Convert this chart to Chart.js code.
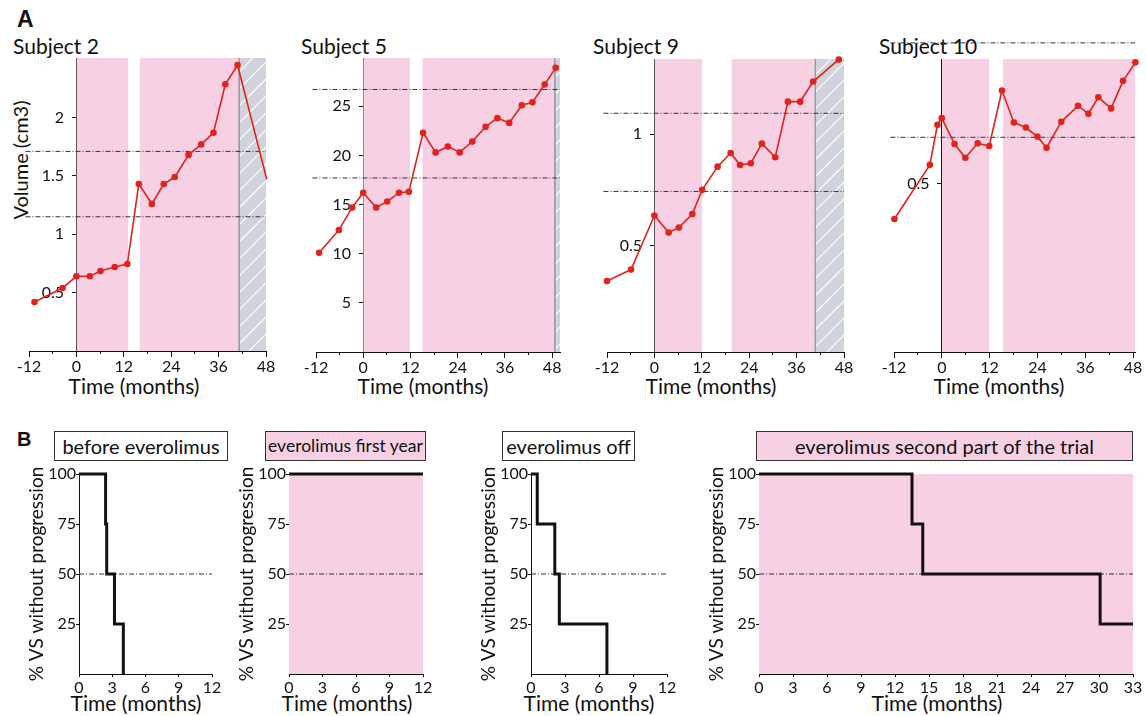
<!DOCTYPE html>
<html>
<head>
<meta charset="utf-8">
<script src="https://cdn.jsdelivr.net/npm/chart.js@4.4.1/dist/chart.umd.min.js"></script>
<style>
body { margin: 0; background: #fff; width: 1146px; height: 716px; position: relative; overflow: hidden; font-family: Lato, sans-serif; color: #111; }
canvas { position: absolute; }
.lbl { position: absolute; white-space: nowrap; line-height: 1; }
.letter { font-family: "Liberation Sans", Arial, sans-serif; font-weight: bold; }
.subj { font-size: 21px; }
.xt { font-size: 21px; transform: translateX(-50%); }
.tbox { position: absolute; box-sizing: border-box; height: 30px; border: 1px solid #333; text-align: center; font-size: 20px; line-height: 28px; white-space: nowrap; }
</style>
</head>
<body>

<div class="lbl letter" style="left:17px; top:8px; font-size:23px;">A</div>
<div class="lbl letter" style="left:17px; top:429px; font-size:20px;">B</div>

<div class="lbl subj" style="left:13px; top:35px;">Subject 2</div>
<div class="lbl subj" style="left:301px; top:35px;">Subject 5</div>
<div class="lbl subj" style="left:593px; top:35px;">Subject 9</div>
<div class="lbl subj" style="left:879px; top:35px;">Subject 10</div>
<div class="lbl" style="left:20px; top:160px; font-size:20px; transform: translate(-50%, -50%) rotate(-90deg);">Volume (cm3)</div>

<div class="lbl xt" style="left:134px; top:375px;">Time (months)</div>
<div class="lbl xt" style="left:423px; top:375px;">Time (months)</div>
<div class="lbl xt" style="left:711px; top:375px;">Time (months)</div>
<div class="lbl xt" style="left:999px; top:375px;">Time (months)</div>

<div class="tbox" style="left:54px; top:431px; width:174px; background:#fff;">before everolimus</div>
<div class="tbox" style="left:265px; top:431px; width:161px; background:rgb(248,208,227); font-size:17.5px;">everolimus first year</div>
<div class="tbox" style="left:502px; top:431px; width:133px; background:#fff;">everolimus off</div>
<div class="tbox" style="left:756px; top:431px; width:377px; background:rgb(248,208,227);">everolimus second part of the trial</div>

<div class="lbl xt" style="left:136px; top:692px;">Time (months)</div>
<div class="lbl xt" style="left:347px; top:692px;">Time (months)</div>
<div class="lbl xt" style="left:589px; top:692px;">Time (months)</div>
<div class="lbl xt" style="left:937px; top:692px;">Time (months)</div>

<canvas id="s2"></canvas>
<canvas id="s5"></canvas>
<canvas id="s9"></canvas>
<canvas id="s10"></canvas>
<canvas id="b1"></canvas>
<canvas id="b2"></canvas>
<canvas id="b3"></canvas>
<canvas id="b4"></canvas>

<script>
// ---- données panneau A (volume en cm3 / mois) ----
const monthTicks = [-12, 0, 12, 24, 36, 48];
const monthMinor = [-6, 6, 18, 30, 42];

const s2Months = [-10.6, -3.5, 0, 3.4, 6.1, 9.7, 12.9, 15.8, 19.1, 22.1, 24.9, 28.4, 31.6, 34.7, 37.7, 40.8, 48.2];
const s2Volume = [0.42, 0.54, 0.64, 0.64, 0.685, 0.72, 0.745, 1.43, 1.26, 1.43, 1.49, 1.68, 1.77, 1.87, 2.285, 2.45, 1.47];
const s2Limits = [1.15, 1.71];
const s2OnDrug = [[0, 13.1], [16.0, 41.2]];
const s2Off = [41.2, 48];
const s2YTicks = [0.5, 1, 1.5, 2];

const s5Months = [-11.2, -6.2, -2.8, 0, 3.3, 6.1, 9.1, 11.6, 15.2, 18.4, 21.5, 24.5, 27.7, 31.1, 34.1, 37.1, 40.3, 43.0, 46.1, 48.9];
const s5Volume = [10.1, 12.4, 14.7, 16.2, 14.7, 15.3, 16.2, 16.3, 22.3, 20.3, 20.9, 20.3, 21.4, 22.9, 23.8, 23.3, 25.1, 25.4, 27.2, 28.9];
const s5Limits = [17.7, 26.7];
const s5OnDrug = [[0, 11.9], [15.0, 48.7]];
const s5Off = [48.7, 50];
const s5YTicks = [5, 10, 15, 20, 25];

const s9Months = [-12, -5.9, 0, 3.6, 6.2, 9.6, 12.1, 16.0, 19.3, 21.7, 24.4, 27.2, 30.6, 33.8, 36.9, 40.2, 46.7];
const s9Volume = [0.343, 0.394, 0.636, 0.56, 0.582, 0.643, 0.751, 0.855, 0.916, 0.862, 0.870, 0.958, 0.897, 1.146, 1.146, 1.236, 1.335];
const s9Limits = [0.744, 1.094];
const s9OnDrug = [[0, 12.1], [19.5, 40.4]];
const s9Off = [40.7, 48];
const s9YTicks = [0.5, 1];

const s10Months = [-11.9, -3.0, -1.1, 0, 3.2, 5.9, 9.0, 11.9, 15.1, 18.1, 21.1, 24.0, 26.3, 30.0, 34.2, 36.8, 39.3, 42.5, 45.5, 48.6];
const s10Volume = [0.396, 0.557, 0.676, 0.696, 0.619, 0.578, 0.621, 0.613, 0.778, 0.683, 0.668, 0.641, 0.608, 0.685, 0.733, 0.709, 0.758, 0.725, 0.807, 0.862];
const s10Limits = [0.639, 0.92];
const s10OnDrug = [[0, 12.0], [15.3, 48.5]];
const s10YTicks = [0.5];

// ---- données panneau B (Kaplan-Meier) ----
const survTicks = [25, 50, 75, 100];
const kmTicks12 = [0, 3, 6, 9, 12];
const kmTicks33 = [0, 3, 6, 9, 12, 15, 18, 21, 24, 27, 30, 33];

const b1Time = [0, 2.4, 2.5, 3.2, 4.0];
const b1Surv = [100, 75, 50, 25, 0];
const b2Time = [0, 12];
const b2Surv = [100, 100];
const b3Time = [0, 0.55, 2.1, 2.5, 6.7];
const b3Surv = [100, 75, 50, 25, 0];
const b4Time = [0, 13.5, 14.45, 30.1, 33];
const b4Surv = [100, 75, 50, 25, 25];

const FONT = 'Lato';
const INK = '#111';
const PINK = 'rgb(248, 208, 227)';
const RED = 'rgb(226, 35, 27)';
const DASH = [5, 2, 1, 2];

function hatch() {
    const s = 17;
    const c = document.createElement('canvas');
    c.width = s; c.height = s;
    const g = c.getContext('2d');
    g.fillStyle = '#d0d3db';
    g.fillRect(0, 0, s, s);
    g.strokeStyle = '#fff';
    g.lineWidth = 1.2;
    for (const k of [-1, 0, 1]) {
        g.beginPath();
        g.moveTo(k * s, s);
        g.lineTo(k * s + s, 0);
        g.stroke();
    }
    return g.createPattern(c, 'repeat');
}

function place(canvas, left, top, w, h) {
    canvas.width = w; canvas.height = h;
    canvas.style.left = left + 'px';
    canvas.style.top = top + 'px';
    canvas.style.width = w + 'px';
    canvas.style.height = h + 'px';
}

function pts(xs, ys) {
    return xs.map((x, i) => ({ x: x, y: ys[i] }));
}

// area = bords de la zone de tracé en pixels de la page
function volumeChart(id, area, o) {
    const padL = 22, padR = 16, padT = 26, axisH = 46;
    const cv = document.getElementById(id);
    place(cv, area.l - padL, area.t - padT, area.r - area.l + padL + padR, area.b - area.t + padT + axisH);

    const datasets = [];
    o.onDrug.forEach(p => datasets.push({
        data: pts(p, [o.yMax, o.yMax]), fill: 'start', backgroundColor: PINK,
        borderWidth: 0, pointRadius: 0, order: 10
    }));
    if (o.off) {
        datasets.push({
            data: pts(o.off, [o.yMax, o.yMax]), fill: 'start', backgroundColor: hatch(),
            borderWidth: 0, pointRadius: 0, order: 9
        });
        datasets.push({
            data: pts([o.off[0], o.off[0]], [o.yMin, o.yMax]), borderColor: '#8e959b',
            borderWidth: 1.5, pointRadius: 0, fill: false, order: 8
        });
    }
    o.limits.forEach(v => datasets.push({
        data: pts([o.xMin - 0.9, o.xMax], [v, v]), borderColor: '#333', borderWidth: 1,
        borderDash: DASH, pointRadius: 0, fill: false, clip: false, order: 5
    }));
    const last = o.months.length - 1;
    datasets.push({
        data: pts(o.months, o.volume), borderColor: RED, backgroundColor: RED, borderWidth: 1.6,
        pointRadius: ctx => (o.tail && ctx.dataIndex === last) ? 0 : 3.3,
        pointBorderWidth: 0, fill: false, clip: false, order: 0
    });

    new Chart(cv, {
        type: 'line',
        data: { datasets: datasets },
        options: {
            responsive: false, animation: false,
            layout: { padding: { left: padL, right: padR, top: padT, bottom: 0 } },
            plugins: { legend: { display: false }, tooltip: { enabled: false } },
            scales: {
                x: {
                    type: 'linear', position: 'bottom', min: o.xMin, max: o.xMax,
                    afterBuildTicks: s => { s.ticks = monthTicks.map(v => ({ value: v })); },
                    afterFit: s => { s.height = axisH; },
                    grid: { drawOnChartArea: false, tickLength: 6, color: INK },
                    border: { color: INK, width: 1 },
                    ticks: { font: { family: FONT, size: 16 }, color: INK, padding: 0, maxRotation: 0, autoSkip: false, callback: v => String(v) }
                },
                xm: {
                    type: 'linear', position: { y: o.yMin }, min: o.xMin, max: o.xMax,
                    afterBuildTicks: s => { s.ticks = monthMinor.map(v => ({ value: v })); },
                    grid: { drawOnChartArea: false, tickLength: 3, color: INK },
                    border: { display: false },
                    ticks: { display: false }
                },
                y: {
                    type: 'linear', position: { x: 0 }, min: o.yMin, max: o.yMax,
                    afterBuildTicks: s => { s.ticks = o.yTicks.map(v => ({ value: v })); },
                    grid: { drawOnChartArea: false, tickLength: 4, color: INK },
                    border: { color: INK, width: 1 },
                    // l'axe centré colle les libellés au trait : on ajoute un petit blanc
                    ticks: { font: { family: FONT, size: 16 }, color: INK, autoSkip: false, callback: v => String(v) + '   ' }
                }
            }
        }
    });
}

function kmChart(id, area, o) {
    const padL = 4, axisW = 57, padR = 12, padT = 12, axisH = 44;
    const cv = document.getElementById(id);
    place(cv, area.l - axisW - padL, area.t - padT, area.r - area.l + axisW + padL + padR, area.b - area.t + padT + axisH);

    const datasets = [];
    if (o.pink) {
        datasets.push({
            data: pts([0, o.xMax], [100, 100]), fill: 'start', backgroundColor: PINK,
            borderWidth: 0, pointRadius: 0, order: 10
        });
    }
    datasets.push({
        data: pts([0, o.xMax], [50, 50]), borderColor: '#333', borderWidth: 1,
        borderDash: DASH, pointRadius: 0, fill: false, order: 5
    });
    datasets.push({
        data: pts(o.time, o.surv), stepped: true, borderColor: INK, borderWidth: 3,
        pointRadius: 0, fill: false, clip: false, order: 0
    });

    new Chart(cv, {
        type: 'line',
        data: { datasets: datasets },
        options: {
            responsive: false, animation: false,
            layout: { padding: { left: padL, right: padR, top: padT, bottom: 0 } },
            plugins: { legend: { display: false }, tooltip: { enabled: false } },
            scales: {
                x: {
                    type: 'linear', position: 'bottom', min: 0, max: o.xMax,
                    afterBuildTicks: s => { s.ticks = o.xTicks.map(v => ({ value: v })); },
                    afterFit: s => { s.height = axisH; },
                    grid: { drawOnChartArea: false, tickLength: 3, color: INK },
                    border: { color: INK, width: 1 },
                    ticks: { font: { family: FONT, size: 16 }, color: INK, padding: 1, maxRotation: 0, autoSkip: false, callback: v => String(v) }
                },
                y: {
                    type: 'linear', position: 'left', min: 0, max: 100,
                    afterBuildTicks: s => { s.ticks = survTicks.map(v => ({ value: v })); },
                    afterFit: s => { s.width = axisW; },
                    grid: { drawOnChartArea: false, tickLength: 3, color: INK },
                    border: { color: INK, width: 1 },
                    ticks: { font: { family: FONT, size: 16 }, color: INK, padding: 0, autoSkip: false, callback: v => String(v) },
                    title: { display: true, text: '% VS without progression', font: { family: FONT, size: 19 }, color: INK, padding: { top: 3, bottom: 0 } }
                }
            }
        }
    });
}

volumeChart('s2', { l: 29, r: 266, t: 58, b: 351 },
    { xMin: -12, xMax: 48, yMin: 0, yMax: 2.51, months: s2Months, volume: s2Volume, limits: s2Limits, onDrug: s2OnDrug, off: s2Off, yTicks: s2YTicks, tail: true });
volumeChart('s5', { l: 316, r: 560, t: 58, b: 352 },
    { xMin: -12, xMax: 50, yMin: 0, yMax: 29.9, months: s5Months, volume: s5Volume, limits: s5Limits, onDrug: s5OnDrug, off: s5Off, yTicks: s5YTicks });
volumeChart('s9', { l: 607, r: 844, t: 59, b: 352 },
    { xMin: -12, xMax: 48, yMin: 0.025, yMax: 1.337, months: s9Months, volume: s9Volume, limits: s9Limits, onDrug: s9OnDrug, off: s9Off, yTicks: s9YTicks });
volumeChart('s10', { l: 894, r: 1135, t: 59, b: 352 },
    { xMin: -12, xMax: 48.5, yMin: 0, yMax: 0.872, months: s10Months, volume: s10Volume, limits: s10Limits, onDrug: s10OnDrug, off: null, yTicks: s10YTicks });

kmChart('b1', { l: 79, r: 212, t: 474, b: 674 }, { xMax: 12, xTicks: kmTicks12, time: b1Time, surv: b1Surv, pink: false });
kmChart('b2', { l: 289, r: 423, t: 474, b: 674 }, { xMax: 12, xTicks: kmTicks12, time: b2Time, surv: b2Surv, pink: true });
kmChart('b3', { l: 531, r: 667, t: 474, b: 674 }, { xMax: 12, xTicks: kmTicks12, time: b3Time, surv: b3Surv, pink: false });
kmChart('b4', { l: 759, r: 1133, t: 474, b: 674 }, { xMax: 33, xTicks: kmTicks33, time: b4Time, surv: b4Surv, pink: true });
</script>
</body>
</html>
